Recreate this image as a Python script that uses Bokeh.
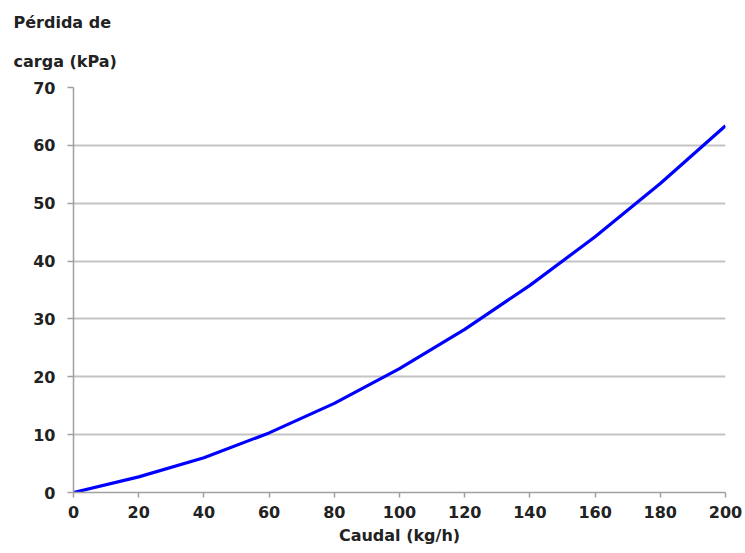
from bokeh.plotting import figure
from bokeh.models import Range1d, FixedTicker, Title
from bokeh.embed import file_html
from bokeh.resources import INLINE

caudal = [0, 20, 40, 60, 80, 100, 120, 140, 160, 180, 200]
perdida = [0, 2.7, 6.0, 10.3, 15.4, 21.4, 28.2, 35.8, 44.2, 53.4, 63.4]
x_ticks = [0, 20, 40, 60, 80, 100, 120, 140, 160, 180, 200]
y_ticks = [0, 10, 20, 30, 40, 50, 60, 70]
title_lines = ["Pérdida de", "carga (kPa)"]

p = figure(width=745, height=553, output_backend="svg", toolbar_location=None,
           x_range=Range1d(0, 200), y_range=Range1d(0, 70),
           title=title_lines[0],
           min_border_left=73, min_border_right=20, min_border_top=87, min_border_bottom=61)
p.frame_width = 652
p.frame_height = 405
p.outline_line_color = None
p.background_fill_color = "white"

p.line(caudal, perdida, line_color="#0000FF", line_width=3.2)

font = "DejaVu Sans"
for ax in (p.xaxis[0], p.yaxis[0]):
    ax.axis_line_color = "#a0a0a0"
    ax.axis_line_width = 1.5
    ax.major_tick_line_color = "#a0a0a0"
    ax.major_tick_line_width = 1.5
    ax.minor_tick_line_color = None
    ax.major_tick_in = 0
    ax.major_label_text_font = font
    ax.major_label_text_font_style = "bold"
    ax.major_label_text_font_size = "16px"
    ax.major_label_text_color = "#222222"

p.xaxis.major_tick_out = 5
p.yaxis.major_tick_out = 6
p.xaxis.ticker = FixedTicker(ticks=x_ticks)
p.yaxis.ticker = FixedTicker(ticks=y_ticks)
p.xaxis.major_label_standoff = 8
p.yaxis.major_label_standoff = 12
p.xaxis.axis_label = "Caudal (kg/h)"
p.xaxis.axis_label_text_font = font
p.xaxis.axis_label_text_font_style = "bold"
p.xaxis.axis_label_text_font_size = "16px"
p.xaxis.axis_label_text_color = "#222222"
p.xaxis.axis_label_standoff = 5

p.xgrid.grid_line_color = None
p.ygrid.grid_line_color = "#c4c4c4"
p.ygrid.grid_line_width = 2

p.title.align = "left"
p.title.offset = -60
p.title.standoff = 3
p.title.text_font = font
p.title.text_font_style = "bold"
p.title.text_font_size = "16px"
p.title.text_color = "#222222"

t2 = Title(text=title_lines[1], align="left", offset=-60, standoff=33,
           text_font=font, text_font_style="bold", text_font_size="16px",
           text_color="#222222")
p.add_layout(t2, "above")

open("out.html", "w").write(file_html(p, INLINE))
